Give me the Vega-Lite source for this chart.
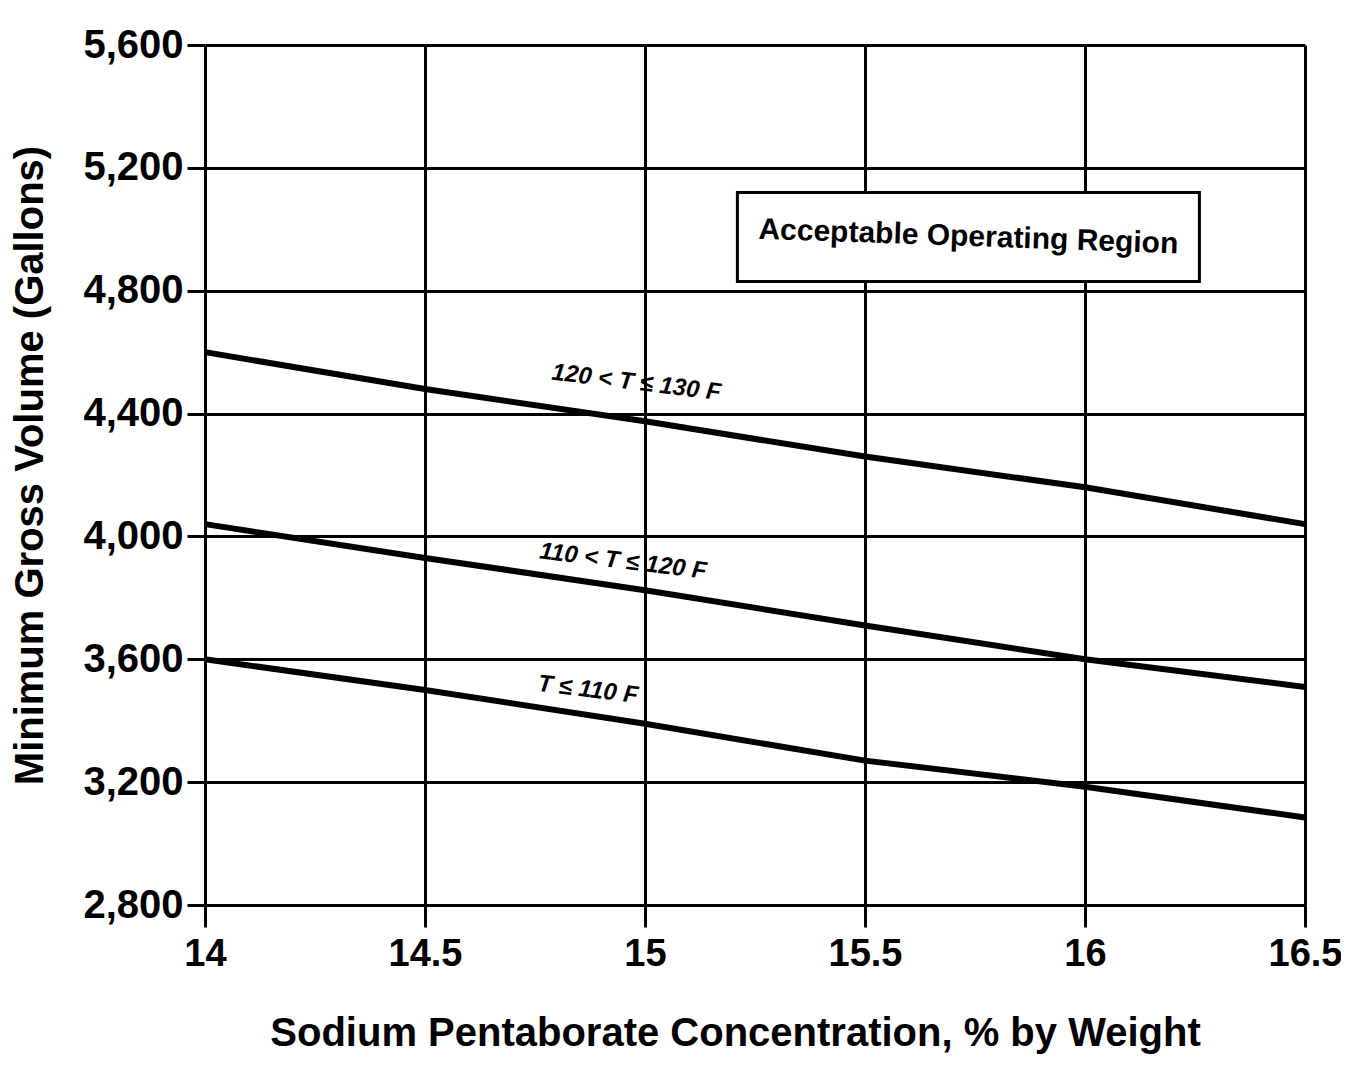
{
  "$schema": "https://vega.github.io/schema/vega-lite/v6.json",
  "autosize": {"type": "none"},
  "padding": {"left": 205, "top": 45, "right": 36, "bottom": 171},
  "width": 1100,
  "height": 860,
  "background": "white",
  "config": {
    "view": {"stroke": null},
    "font": "Liberation Sans"
  },
  "datasets": {
    "curves": [
      {"conc": 14, "volume": 4600, "range": "120 < T ≤ 130 F"},
      {"conc": 14.5, "volume": 4480, "range": "120 < T ≤ 130 F"},
      {"conc": 15, "volume": 4375, "range": "120 < T ≤ 130 F"},
      {"conc": 15.5, "volume": 4260, "range": "120 < T ≤ 130 F"},
      {"conc": 16, "volume": 4160, "range": "120 < T ≤ 130 F"},
      {"conc": 16.5, "volume": 4040, "range": "120 < T ≤ 130 F"},
      {"conc": 14, "volume": 4040, "range": "110 < T ≤ 120 F"},
      {"conc": 14.5, "volume": 3930, "range": "110 < T ≤ 120 F"},
      {"conc": 15, "volume": 3825, "range": "110 < T ≤ 120 F"},
      {"conc": 15.5, "volume": 3710, "range": "110 < T ≤ 120 F"},
      {"conc": 16, "volume": 3600, "range": "110 < T ≤ 120 F"},
      {"conc": 16.5, "volume": 3510, "range": "110 < T ≤ 120 F"},
      {"conc": 14, "volume": 3600, "range": "T ≤ 110 F"},
      {"conc": 14.5, "volume": 3500, "range": "T ≤ 110 F"},
      {"conc": 15, "volume": 3390, "range": "T ≤ 110 F"},
      {"conc": 15.5, "volume": 3270, "range": "T ≤ 110 F"},
      {"conc": 16, "volume": 3185, "range": "T ≤ 110 F"},
      {"conc": 16.5, "volume": 3085, "range": "T ≤ 110 F"}
    ],
    "curveLabels": [
      {"conc": 14.98, "volume": 4500, "label": "120 < T ≤ 130 F"},
      {"conc": 14.95, "volume": 3918, "label": "110 < T ≤ 120 F"},
      {"conc": 14.87, "volume": 3500, "label": "T ≤ 110 F"}
    ],
    "region": [
      {"x1": 15.21, "x2": 16.26, "y1": 4830, "y2": 5120, "xc": 15.735, "yc": 4975, "label": "Acceptable Operating Region"}
    ]
  },
  "layer": [
    {
      "data": {"name": "curves"},
      "mark": {"type": "line", "color": "black", "strokeWidth": 6},
      "encoding": {
        "x": {
          "field": "conc",
          "type": "quantitative",
          "scale": {"domain": [14, 16.5], "nice": false, "zero": false},
          "axis": {
            "values": [14, 14.5, 15, 15.5, 16, 16.5],
            "format": "~g",
            "title": "Sodium Pentaborate Concentration, % by Weight",
            "titleFontSize": 40,
            "titleFontWeight": "bold",
            "titleColor": "black",
            "titleX": 530,
            "titleY": 128,
            "titleBaseline": "middle",
            "labelFontSize": 38,
            "labelFontWeight": "bold",
            "labelColor": "black",
            "labelPadding": 8,
            "labelFlush": false,
            "domain": false,
            "grid": true,
            "gridColor": "black",
            "gridWidth": 3,
            "gridOpacity": 1,
            "ticks": true,
            "tickColor": "black",
            "tickWidth": 3,
            "tickSize": 22
          }
        },
        "y": {
          "field": "volume",
          "type": "quantitative",
          "scale": {"domain": [2800, 5600], "nice": false, "zero": false},
          "axis": {
            "values": [2800, 3200, 3600, 4000, 4400, 4800, 5200, 5600],
            "format": ",.0f",
            "title": "Minimum Gross Volume (Gallons)",
            "titleFontSize": 40,
            "titleFontWeight": "bold",
            "titleColor": "black",
            "titleX": -175,
            "titleY": 420,
            "titleBaseline": "middle",
            "labelFontSize": 40,
            "labelFontWeight": "bold",
            "labelColor": "black",
            "labelPadding": 4,
            "labelFlush": false,
            "domain": false,
            "grid": true,
            "gridColor": "black",
            "gridWidth": 3,
            "gridOpacity": 1,
            "ticks": true,
            "tickColor": "black",
            "tickWidth": 3,
            "tickSize": 18
          }
        },
        "detail": {"field": "range", "type": "nominal"}
      }
    },
    {
      "data": {"name": "region"},
      "mark": {"type": "rect", "fill": "white", "stroke": "black", "strokeWidth": 3},
      "encoding": {
        "x": {"field": "x1", "type": "quantitative"},
        "x2": {"field": "x2"},
        "y": {"field": "y1", "type": "quantitative"},
        "y2": {"field": "y2"}
      }
    },
    {
      "data": {"name": "region"},
      "mark": {"type": "text", "fontSize": 30, "fontWeight": "bold", "color": "black", "align": "center", "baseline": "middle", "angle": 2},
      "encoding": {
        "x": {"field": "xc", "type": "quantitative"},
        "y": {"field": "yc", "type": "quantitative"},
        "text": {"field": "label"}
      }
    },
    {
      "data": {"name": "curveLabels"},
      "mark": {"type": "text", "fontSize": 24, "fontWeight": "bold", "fontStyle": "italic", "color": "black", "align": "center", "baseline": "middle", "angle": 7},
      "encoding": {
        "x": {"field": "conc", "type": "quantitative"},
        "y": {"field": "volume", "type": "quantitative"},
        "text": {"field": "label"}
      }
    }
  ]
}
